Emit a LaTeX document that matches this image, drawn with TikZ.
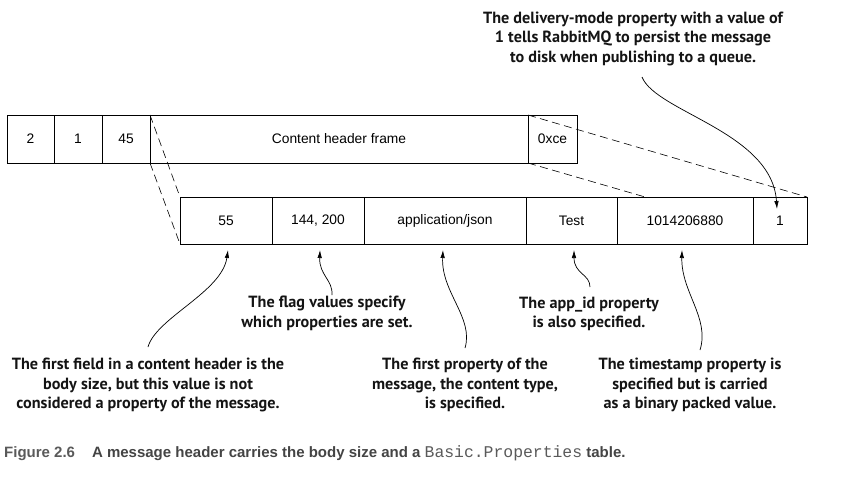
\documentclass[tikz,border=0pt]{standalone}
\usepackage{fontspec}
\setmainfont{Liberation Sans}
\newfontfamily\notefont{PT Sans}
\setmonofont{Liberation Mono}
\usetikzlibrary{arrows.meta,calc}
\definecolor{capgray}{HTML}{5A5A5A}
\definecolor{capdark}{HTML}{444444}
\begin{document}
\begin{tikzpicture}[x=1pt,y=-1pt,
  cell/.style={draw,line width=0.8pt,inner sep=0pt,outer sep=0pt,
    font=\fontsize{13.8}{16}\selectfont},
  rowa/.style={cell,minimum height=48pt},
  rowb/.style={cell,minimum height=47pt},
  note/.style={align=center,inner sep=0pt,
    font=\notefont\bfseries\fontsize{16.2}{19.5}\selectfont,text=black!92},
  arr/.style={line width=0.7pt,-{Latex[length=8pt,width=4.5pt]}},
  zoomline/.style={line width=0.6pt,dash pattern=on 8pt off 4.5pt},
]
\useasboundingbox (0,0) rectangle (858,482);
\fill[white] (0,0) rectangle (858,482);

% top row: content header frame
\node[rowa,minimum width=47pt] (c1) at (30.5,139) {2};
\node[rowa,minimum width=48pt] (c2) at (78,139) {1};
\node[rowa,minimum width=48pt] (c3) at (126,139) {45};
\node[rowa,minimum width=378pt] (c4) at (339,139) {Content header frame};
\node[rowa,minimum width=49pt] (c5) at (552.5,139) {0xce};

% bottom row: header fields
\node[rowb,minimum width=92pt] (d1) at (226,220.5) {55};
\node[rowb,minimum width=92pt] (d2) at (318,220.5) {144, 200};
\node[rowb,minimum width=162pt] (d3) at (445,220.5) {application/json};
\node[rowb,minimum width=91pt] (d4) at (571.5,220.5) {Test};
\node[rowb,minimum width=136pt] (d5) at (685,220.5) {1014206880};
\node[rowb,minimum width=54pt] (d6) at (780,220.5) {1};

% zoom lines
\draw[zoomline] (c4.north west) -- (d1.north west);
\draw[zoomline] (c4.south west) -- (d1.south west);
\draw[zoomline] (c5.north west) -- (d6.north east);
\coordinate (zend) at ($(c5.south west)!0.42!(d6.south east)$);
\draw[zoomline] (c5.south west) -- (zend);

% annotations
\node[note] (t0) at (633,38.5) {The delivery-mode property with a value of\\1 tells RabbitMQ to persist the message\\to disk when publishing to a queue.};
\node[note] (tflag) at (327,313.5) {The flag values specify\\which properties are set.};
\node[note] (tapp) at (589,314) {The app\_id property\\is also specified.};
\node[note] (t1) at (148,385) {The first field in a content header is the\\body size, but this value is not\\considered a property of the message.};
\node[note] (t3) at (465,385) {The first property of the\\message, the content type,\\is specified.};
\node[note] (t5) at (690,385) {The timestamp property is\\specified but is carried\\as a binary packed value.};

\draw[arr] (642,77) .. controls (656,112) and (772,132) .. ([xshift=-3pt,yshift=-12pt]d6.north);
\draw[arr] (148,347) .. controls (156,318) and (222,292) .. ([xshift=2pt,yshift=-6pt]d1.south);
\draw[arr] (332,295) .. controls (333,280) and (319,275) .. ([xshift=2pt,yshift=-6pt]d2.south);
\draw[arr] (465,348) .. controls (474,318) and (441,292) .. ([xshift=-2pt,yshift=-6pt]d3.south);
\draw[arr] (590,287) .. controls (590,274) and (574,274) .. ([xshift=2.5pt,yshift=-6pt]d4.south);
\draw[arr] (700,350) .. controls (710,318) and (681,292) .. ([xshift=-3pt,yshift=-6pt]d5.south);

% caption
\node[anchor=base west,inner sep=0pt,font=\bfseries\fontsize{15}{16}\selectfont] (cap) at (4,457)
  {\textcolor{capgray}{Figure 2.6}\hspace{17pt}\textcolor{capdark}{A message header carries the body size and a \textcolor{capgray}{\mdseries\ttfamily\fontsize{16.4}{16}\selectfont Basic.Properties} table.}};
\end{tikzpicture}
\end{document}
